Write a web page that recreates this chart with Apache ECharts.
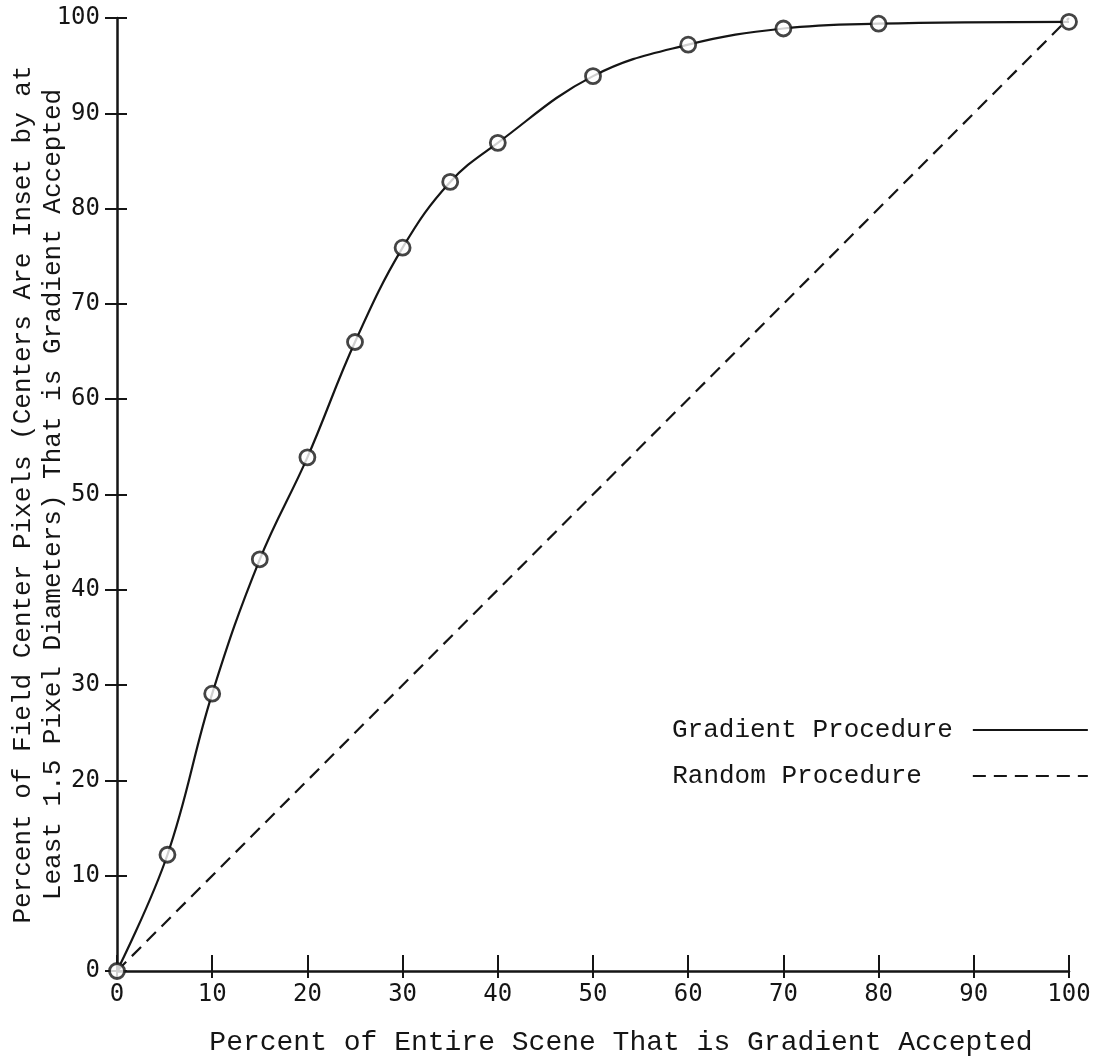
<!DOCTYPE html>
<html>
<head>
<meta charset="utf-8">
<script src="https://cdn.jsdelivr.net/npm/echarts@6/dist/echarts.min.js"></script>
<style>
  html, body { margin: 0; padding: 0; background: #fff; }
  #chart { width: 1100px; height: 1057px; }
</style>
</head>
<body>
<div id="chart"></div>
<script>
// 梯度接受曲线 (读取自原图)
const sceneAccepted = [0, 5.3, 10, 15, 20, 25, 30, 35, 40, 50, 60, 70, 80, 100];
const centersAccepted = [0, 12.2, 29.1, 43.2, 53.9, 66.0, 75.9, 82.8, 86.9, 93.9, 97.2, 98.9, 99.4, 99.6];

// 随机过程: 对角线
const randomX = [0, 100];
const randomY = [0, 100];

const axisTicks = [0, 10, 20, 30, 40, 50, 60, 70, 80, 90, 100];

const seriesNames = ['Gradient Procedure', 'Random Procedure'];
const xTitle = 'Percent of Entire Scene That is Gradient Accepted';
const yTitle = 'Percent of Field Center Pixels (Centers Are Inset by at\nLeast 1.5 Pixel Diameters) That is Gradient Accepted';

const INK = '#151515';
const typeFont = '"Liberation Mono", "DejaVu Sans Mono", monospace';
const labelFont = '"DejaVu Sans Mono", "Liberation Mono", monospace';

const zip = (xs, ys) => xs.map((x, i) => [x, ys[i]]);

const chart = echarts.init(document.getElementById('chart'), null, { renderer: 'canvas' });

const baseAxis = {
    type: 'value',
    min: axisTicks[0],
    max: axisTicks[axisTicks.length - 1],
    interval: 10,
    splitLine: { show: false }
};

const option = {
    backgroundColor: '#ffffff',
    animation: false,
    grid: { left: 117, right: 31, top: 18, bottom: 86, containLabel: false, outerBoundsMode: 'none' },
    legend: {
        orient: 'vertical',
        left: 667,
        top: 712,
        align: 'right',
        itemWidth: 115,
        itemHeight: 14,
        itemGap: 20,
        itemStyle: { opacity: 0 },
        data: [
            { name: seriesNames[0], textStyle: { padding: [0, 15, 0, 0] } },
            { name: seriesNames[1], textStyle: { padding: [0, 46, 0, 0] } }
        ],
        textStyle: {
            fontFamily: typeFont,
            fontSize: 26,
            color: INK
        }
    },
    xAxis: [
        Object.assign({}, baseAxis, {
            position: 'bottom',
            name: xTitle,
            nameLocation: 'middle',
            nameGap: 58,
            nameMoveOverlap: false,
            nameTextStyle: { fontFamily: typeFont, fontSize: 28, color: INK, padding: [0, 0, 0, 56] },
            axisLine: { lineStyle: { color: INK, width: 2.5 } },
            axisTick: { length: 7, lineStyle: { color: INK, width: 2 } },
            axisLabel: { fontFamily: labelFont, fontSize: 24, color: INK, margin: 12 }
        }),
        Object.assign({}, baseAxis, {
            position: 'bottom',
            axisLine: { show: false },
            axisTick: { inside: true, length: 16, lineStyle: { color: INK, width: 2 } },
            axisLabel: { show: false }
        })
    ],
    yAxis: [
        Object.assign({}, baseAxis, {
            position: 'left',
            name: yTitle,
            nameLocation: 'middle',
            nameRotate: 90,
            nameGap: 49,
            nameMoveOverlap: false,
            nameTextStyle: { fontFamily: typeFont, fontSize: 26, color: INK, lineHeight: 30 },
            axisLine: { lineStyle: { color: INK, width: 2.5 } },
            axisTick: { length: 12, lineStyle: { color: INK, width: 2 } },
            axisLabel: { fontFamily: labelFont, fontSize: 24, color: INK, margin: 17 }
        }),
        Object.assign({}, baseAxis, {
            position: 'left',
            axisLine: { show: false },
            axisTick: { inside: true, length: 10, lineStyle: { color: INK, width: 2 } },
            axisLabel: { show: false }
        })
    ],
    series: [
        {
            name: seriesNames[0],
            type: 'line',
            data: zip(sceneAccepted, centersAccepted),
            smooth: 0.4,
            symbol: 'none',
            lineStyle: { color: INK, width: 2.2 },
            itemStyle: { color: INK },
            z: 3
        },
        {
            name: seriesNames[1],
            type: 'line',
            data: zip(randomX, randomY),
            symbol: 'none',
            lineStyle: { color: INK, width: 2.2, type: [13, 8] },
            itemStyle: { color: INK },
            z: 2
        },
        {
            // 原图中的观测点 (空心圆)
            name: 'observed',
            type: 'scatter',
            data: zip(sceneAccepted, centersAccepted),
            symbol: 'circle',
            symbolSize: 15,
            itemStyle: { color: '#ffffff', borderColor: INK, borderWidth: 2.8 },
            z: 4
        }
    ]
};

chart.setOption(option);
</script>
</body>
</html>
